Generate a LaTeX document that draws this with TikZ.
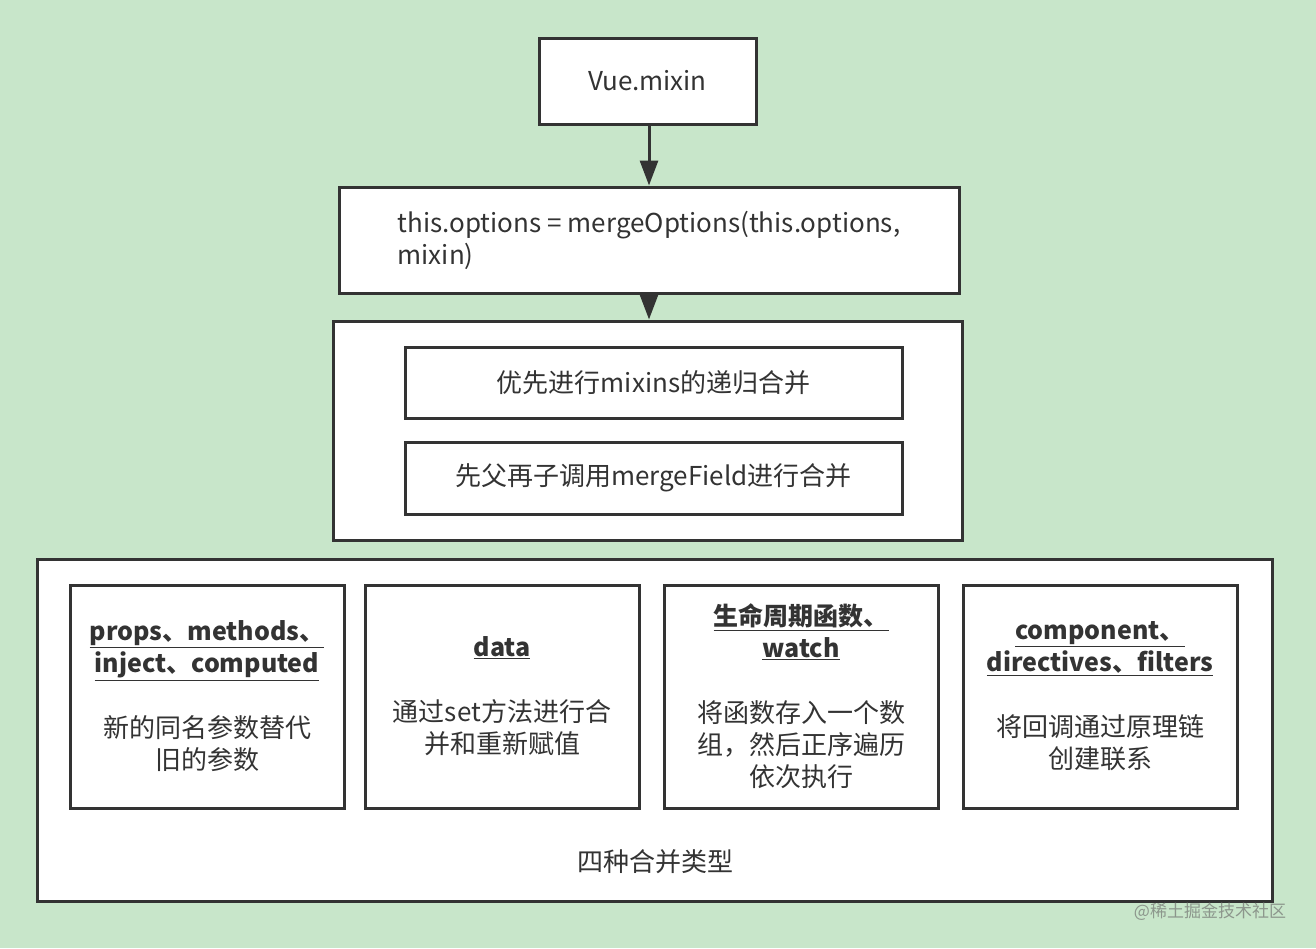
\documentclass[tikz,border=0pt]{standalone}
\usepackage{fontspec}
\setmainfont{Noto Sans CJK SC}
\usetikzlibrary{arrows.meta}
\definecolor{bg}{RGB}{200,230,202}
\definecolor{ink}{RGB}{51,51,51}
\definecolor{wm}{RGB}{140,150,140}
\newcommand{\hdr}[1]{{\fontsize{25pt}{32pt}\selectfont\bfseries\underline{#1}}}
\begin{document}
\begin{tikzpicture}[x=1pt,y=-1pt,
  box/.style={draw=ink, line width=3pt, fill=white, inner sep=0pt, text=ink,
    font=\fontsize{26pt}{32pt}\selectfont, align=center},
  conn/.style={draw=ink, line width=3pt, -{Triangle[length=25pt,width=18pt]}},
  lbl/.style={text=ink, font=\fontsize{26pt}{32pt}\selectfont, inner sep=0pt}]
\fill[bg] (0,0) rectangle (1316,948);
\useasboundingbox (0,0) rectangle (1316,948);

\node[box, minimum width=217pt, minimum height=86pt] (vue) at (647.5,81) {Vue.mixin};
\node[box, minimum width=620pt, minimum height=106pt, align=left] (merge) at (649,240)
  {this.options = mergeOptions(this.options,\\mixin)};
\node[box, minimum width=629pt, minimum height=219pt] (grp) at (647.5,430.5) {};
\node[box, minimum width=497pt, minimum height=71pt] (rec) at (653.5,382.5) {优先进行mixins的递归合并};
\node[box, minimum width=497pt, minimum height=72pt] (fld) at (653.5,478) {先父再子调用mergeField进行合并};

\draw[conn] (merge.south -| 649,0) -- (grp.north -| 649,0);
\draw[conn] (vue.south -| 649,0) -- (merge.north -| 649,0);

\node[box, minimum width=1235pt, minimum height=342pt] (types) at (654.5,730) {};
\node[lbl] (typeslbl) at (655,862) {四种合并类型};

\node[box, minimum width=274pt, minimum height=223pt] (t1) at (207,696.5)
  {\hdr{props、methods、}\\\hdr{inject、computed}\\[33pt]新的同名参数替代\\旧的参数};
\node[box, minimum width=274pt, minimum height=223pt] (t2) at (502,696.5)
  {\hdr{data}\\[33pt]通过set方法进行合\\并和重新赋值};
\node[box, minimum width=274pt, minimum height=223pt] (t3) at (801,696.5)
  {\hdr{生命周期函数、}\\\hdr{watch}\\[33pt]将函数存入一个数\\组，然后正序遍历\\依次执行};
\node[box, minimum width=274pt, minimum height=223pt] (t4) at (1100,696.5)
  {\hdr{component、}\\\hdr{directives、filters}\\[33pt]将回调通过原理链\\创建联系};

\node[text=wm, font=\fontsize{17pt}{19pt}\selectfont, inner sep=0pt] (mark) at (1210,912) {@稀土掘金技术社区};
\end{tikzpicture}
\end{document}
